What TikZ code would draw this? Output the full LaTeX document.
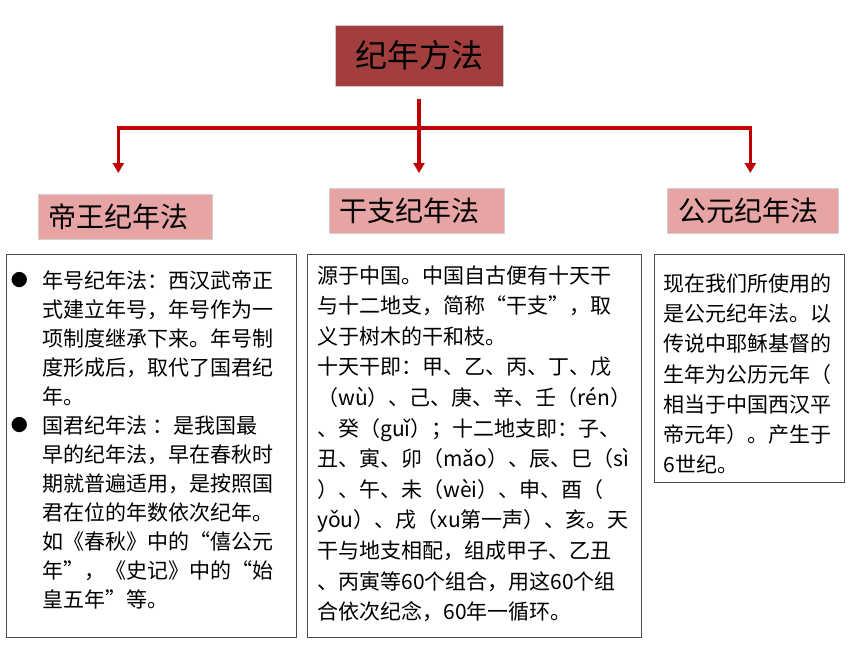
\documentclass[tikz,border=0pt]{standalone}
\usepackage{fontspec}
\setmainfont{Noto Sans CJK SC}
\usetikzlibrary{arrows.meta}
\definecolor{topred}{RGB}{163,62,62}
\definecolor{headpink}{RGB}{230,164,164}
\definecolor{linkred}{RGB}{192,0,0}
\newcommand\qo{\makebox[1em][r]{“}}
\newcommand\qc{\makebox[1em][l]{”}}
\newcommand\dotitem{\leavevmode\llap{\makebox[46pt]{\raisebox{1.5pt}{\fontsize{17pt}{17pt}\selectfont ●}}}}
\begin{document}
\begin{tikzpicture}[x=1pt,y=-1pt,>={Triangle[width=11pt,length=10pt]},line join=miter,
	link/.style={draw=linkred,line width=3.5pt},
	head/.style={fill=headpink,draw=black!18,line width=0.6pt,anchor=north west,minimum height=45pt,inner xsep=10pt,align=left,font=\fontsize{28pt}{28pt}\selectfont},
	panel/.style={draw=black!70,line width=0.75pt,anchor=north west,inner xsep=10pt}]
	\useasboundingbox (0,0) rectangle (860,645);
	
	\node[fill=topred,draw=black!20,line width=0.6pt,minimum width=168pt,minimum height=61pt,font=\fontsize{32pt}{32pt}\selectfont] (top) at (419,55.5) {纪年方法};
	
	\node[head,text width=154pt] (lhead) at (38,194) {帝王纪年法};
	\node[head,text width=155pt] (mhead) at (329,188) {干支纪年法};
	\node[head,text width=149pt,inner xsep=11pt] (rhead) at (667,188) {公元纪年法};
	
	\coordinate (fork) at (419,128);
	\draw[link,->,shorten <=13pt,shorten >=15pt] (top.south) -- (top.south |- mhead.north);
	\draw[link,->,shorten >=21pt] (fork) -| ([xshift=-7pt]lhead.north);
	\draw[link,->,shorten >=15pt] (fork) -| ([xshift=-2.5pt]rhead.north);
	
	% ba khung noi dung
	\node[panel,inner ysep=16pt] (lpanel) at (6,254) {\parbox[t][351pt][t]{270pt}{\fontsize{21pt}{29pt}\selectfont\leftskip=26pt\relax
		\dotitem 年号纪年法：西汉武帝正\\
		式建立年号，年号作为一\\
		项制度继承下来。年号制\\
		度形成后，取代了国君纪\\
		年。\\
		\dotitem 国君纪年法 ：是我国最\\
		早的纪年法，早在春秋时\\
		期就普遍适用，是按照国\\
		君在位的年数依次纪年。\\
		如《春秋》中的\qo 僖公元\\
		年\qc ，《史记》中的\qo 始\\
		皇五年\qc 等。}};
	\node[panel,inner ysep=11pt] (mpanel) at (307,254) {\parbox[t][361pt][t]{314pt}{\fontsize{21pt}{30.6pt}\selectfont
		源于中国。中国自古便有十天干\\
		与十二地支，简称\qo 干支\qc ，取\\
		义于树木的干和枝。\\
		十天干即：甲、乙、丙、丁、戊\\
		（wù）、己、庚、辛、壬（rén）\\
		、癸（guǐ）；十二地支即：子、\\
		丑、寅、卯（mǎo）、辰、巳（sì\\
		）、午、未（wèi）、申、酉（\\
		yǒu）、戌（xu第一声）、亥。天\\
		干与地支相配，组成甲子、乙丑\\
		、丙寅等60个组合，用这60个组\\
		合依次纪念，60年一循环。}};
	\node[panel,inner xsep=9pt,inner ysep=19pt] (rpanel) at (654,254) {\parbox[t][190pt][t]{172pt}{\fontsize{21pt}{30.3pt}\selectfont
		现在我们所使用的\\
		是公元纪年法。以\\
		传说中耶稣基督的\\
		生年为公历元年（\\
		相当于中国西汉平\\
		帝元年）。产生于\\
		6世纪。}};
\end{tikzpicture}
\end{document}
